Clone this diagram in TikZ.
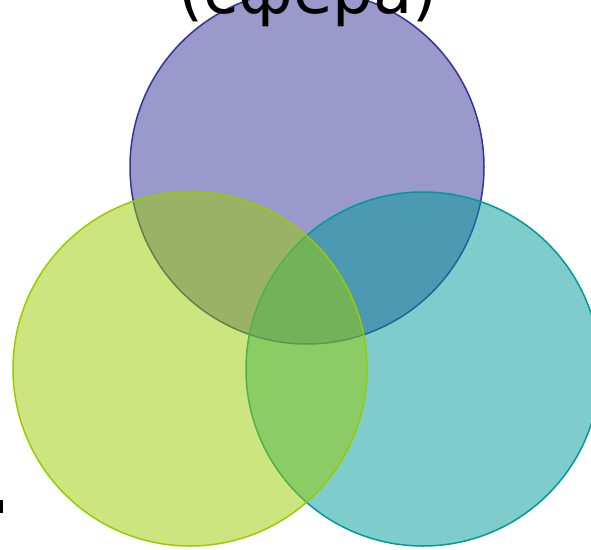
\documentclass[tikz,border=0pt]{standalone}
\usepackage{fontspec}
\setmainfont{DejaVu Sans}
\usepackage{tikz}
\definecolor{vn-top}{HTML}{333399}
\definecolor{vn-left}{HTML}{99CC00}
\definecolor{vn-right}{HTML}{009999}
\definecolor{vn-text}{HTML}{000000}

\begin{document}
\begin{tikzpicture}[x=1pt, y=-1pt]
    \tikzset{venn/.style={line width=1.5pt, fill opacity=0.5}}
    \useasboundingbox (0,0) rectangle (591,549);
    \clip (0,0) rectangle (591,549);

    % Circles
    \draw[venn, draw=vn-top, fill=vn-top] (307, 167) circle (177pt);
    \draw[venn, draw=vn-right, fill=vn-right] (423, 369) circle (177pt);
    \draw[venn, draw=vn-left, fill=vn-left] (190, 369) circle (177pt);

    % Title (cut off at top)
    \node[vn-text, font=\fontsize{64}{64}\selectfont, anchor=base] (title) at (308, 13) {(сфера)};

    % Stray mark at the left edge
    \fill[vn-text] (0, 500) rectangle (3, 513);
\end{tikzpicture}
\end{document}
